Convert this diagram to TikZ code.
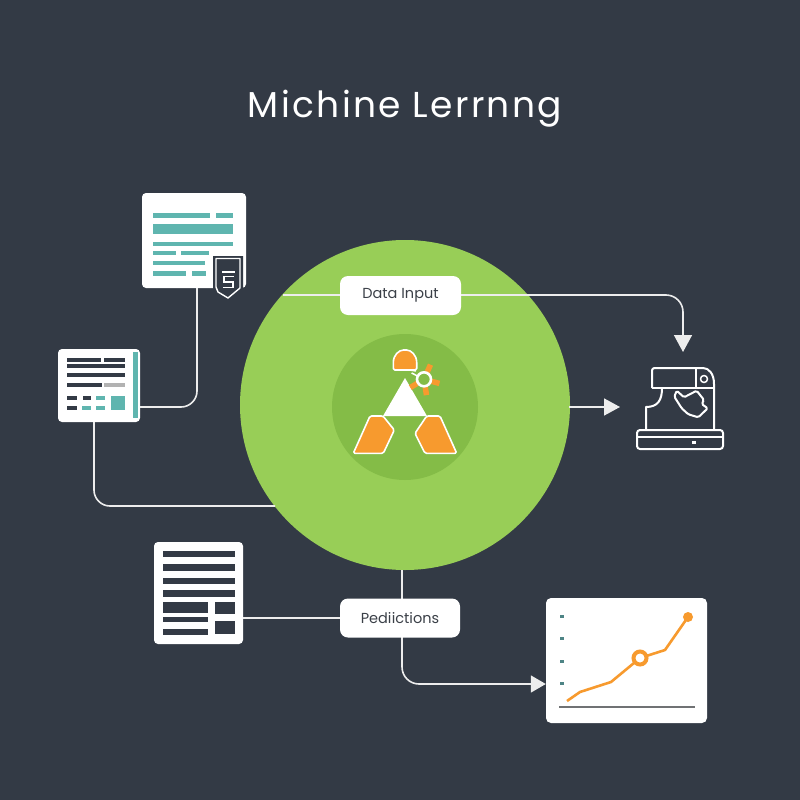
\documentclass[tikz,border=0pt]{standalone}
\usepackage{fontspec}
\setmainfont{Poppins}
\usetikzlibrary{positioning,calc,arrows.meta}
\definecolor{bgdark}{HTML}{333A45}
\definecolor{maingreen}{HTML}{98CE57}
\definecolor{innergreen}{HTML}{84BC47}
\definecolor{barteal}{HTML}{5FB5AF}
\definecolor{emorange}{HTML}{F79A2E}
\definecolor{textdark}{HTML}{3B4048}
\tikzset{
	wire/.style={draw=white!93!black, line width=1.6pt},
	pagebox/.style={fill=white, rounded corners=4pt, inner sep=0pt},
	labelbox/.style={fill=white, rounded corners=8pt, inner sep=0pt, minimum width=120pt, minimum height=39pt, text=textdark, font=\fontsize{14.5}{16}\selectfont},
	tealbar/.style={fill=barteal},
	darkbar/.style={fill=bgdark},
	iconline/.style={draw=white, line width=2pt, line join=round},
	emshape/.style={fill=emorange, draw=white, line width=1.6pt, line join=round, rounded corners=1.5pt}
}
\begin{document}
\begin{tikzpicture}[x=1pt, y=-1pt]
	\fill[bgdark] (0,0) rectangle (800,800);
	\node[text=white, font=\fontsize{36}{40}\selectfont\addfontfeature{LetterSpace=6.5}] (title) at (405,109) {Michine Lerrnng};

	% big circle
	\node[circle, fill=maingreen, minimum size=330pt, inner sep=0pt] (mainc) at (405,405) {};
	\node[circle, fill=innergreen, minimum size=146pt, inner sep=0pt] (innerc) at (405,407) {};

	% pages and boxes
	\node[pagebox, minimum width=104pt, minimum height=95pt] (doctop) at (194,240.5) {};
	\node[pagebox, minimum width=82pt, minimum height=73pt] (docleft) at (99,385.5) {};
	\node[pagebox, minimum width=89pt, minimum height=102pt] (doctable) at (198.5,593) {};
	\node[pagebox, rounded corners=5pt, minimum width=161pt, minimum height=125pt] (chart) at (626.5,660.5) {};
	\coordinate (mainleft) at (283,295);
	\coordinate (mainright) at (569,407);
	\coordinate (mainsw) at (275,506);
	\coordinate (mainbot) at (402,570);
	\coordinate (machinetop) at (683,352);
	\coordinate (machineleft) at (620,407);

	% connectors
	\draw[wire] (mainleft) -- (461,295) coordinate (dataout);
	\draw[wire, rounded corners=17pt, -{Triangle[width=18pt,length=17pt]}] (dataout) -| (machinetop);
	\draw[wire, -{Triangle[width=17pt,length=16pt]}] (mainright) -- (machineleft);
	\draw[wire, rounded corners=16pt] ([xshift=3pt]doctop.south) |- ([yshift=-21.5pt]docleft.east);
	\draw[wire, rounded corners=16pt] ([xshift=-5pt]docleft.south) |- (mainsw);
	\draw[wire] (doctable.east |- 0,618) -- (340,618);
	\draw[wire] (mainbot) -- (402,600);
	\draw[wire, rounded corners=17pt, -{Triangle[width=17pt,length=15pt]}] (402,636) |- ([yshift=-23.5pt]chart.west);

	\node[labelbox, minimum width=121pt] (datain) at (400.5,295.5) {Data Input};
	\node[labelbox] (predict) at (400,618) {Pedi\hspace{0.3pt}ictions};

	% top page
	\foreach \xa/\ya/\xb/\yb in {153/213/210/218, 216/213/233/218, 153/224/233/234, 153/242/233/246,
		153/251/176/255, 181/251/209/255, 153/261/205/265, 153/271/186/276, 192/271/206/276}
		\fill[tealbar] (\xa,\ya) rectangle (\xb,\yb);
	\fill[bgdark] (213,256) -- (243,256) -- (243,289) -- (228,301.5) -- (217,295) -- (213,288) -- cycle;
	\draw[white, line width=1.4pt, line join=round] (216,258.5) -- (240,258.5) -- (240,288) -- (228,298) -- (218,292) -- (216,287) -- cycle;
	\draw[white, line width=1.2pt] (222,272) -- (235,272);
	\draw[white, line width=1.5pt] (234,276.5) -- (224,276.5) -- (224,282) -- (233,282) -- (233,287.5) -- (223,287.5);

	% left page
	\fill[barteal] (133,352) rectangle (138,418);
	\foreach \xa/\ya/\xb/\yb in {67/358/101/362, 104/358/125/362, 67/364/125/368, 67/373/125/377, 67/383/102/387,
		67/396/77/400, 83/396/91/400, 67/406/77/410}
		\fill[darkbar] (\xa,\ya) rectangle (\xb,\yb);
	\fill[gray!60] (104,383) rectangle (125,387);
	\foreach \xa/\ya/\xb/\yb in {96/396/105/400, 82/406/91/410, 96/406/105/410, 111/396/125/410}
		\fill[tealbar] (\xa,\ya) rectangle (\xb,\yb);

	% table page
	\foreach \xa/\ya/\xb/\yb in {163/551/235/557, 163/564/235/571, 163/578/235/584, 163/590/235/597,
		163/602/208/613, 163/617/208/622, 163/629/208/635, 215/602/235/614, 215/621/235/634}
		\fill[darkbar] (\xa,\ya) rectangle (\xb,\yb);

	% emblem
	\fill[white] (405,378) -- (427,416) -- (383,416) -- cycle;
	\draw[emshape] (393.3,370) -- (393.3,364) .. controls (393.3,355) and (399,350) .. (405,350) .. controls (411,350) and (416.7,355) .. (416.7,364) -- (416.7,370) -- cycle;
	\draw[emshape] (353.3,453.3) -- (370,416) -- (383,416) -- (394.3,430) -- (383.3,453.3) -- cycle;
	\draw[emshape] (456.7,453.3) -- (440,416) -- (426.7,416) -- (415,433.3) -- (425,453.3) -- cycle;
	\coordinate (gear) at (424,379.3);
	\foreach \ang in {-66,15,81,149}
		\draw[emorange, line width=5.5pt] ($(gear)+(\ang:8)$) -- ($(gear)+(\ang:16)$);
	\draw[white, line width=1.5pt] ($(gear)+(-153:8)$) -- ($(gear)+(-153:14)$);
	\draw[white, line width=1.5pt] (410,370) -- (416,371);
	\draw[white, line width=2.6pt, fill=innergreen] (gear) circle (7);

	% machine
	\draw[iconline, rounded corners=2.5pt] (652,388) -- (652,368) -- (703,368);
	\draw[iconline] (703,368) .. controls (709,368) and (714,374) .. (714,384) -- (714,430);
	\draw[iconline] (652,388) -- (714,388);
	\draw[iconline] (696,368) -- (696,388);
	\draw[iconline, line width=1.5pt] (704,379) circle (3.5);
	\draw[iconline] (662,388) .. controls (662,400) and (658,407) .. (646,407) -- (646,430);
	\draw[iconline, rounded corners=1.5pt] (674.3,396.7) -- (681.7,408.3) -- (688.3,414.3) -- (698.3,417.3) -- (707.7,408.3) -- (701.7,404) -- (704,400) -- (696.7,390.7) -- (684,397.3) -- (676.7,390.7) -- cycle;
	\draw[iconline, rounded corners=3pt] (637,430) rectangle (723,449);
	\draw[iconline] (637,437) -- (723,437);
	\fill[white] (692,440.5) rectangle (696,443.5);

	% chart
	\draw[draw=gray!80!bgdark, line width=1.8pt] (559,707) -- (695,707);
	\foreach \ya in {616,638,661,683}
		\fill[barteal!60!bgdark] (560,\ya-1.5) rectangle (564,\ya+1.5);
	\draw[emorange, line width=2.6pt, line join=round] (567,701) -- (580,692) -- (611,682) -- (640,658) -- (665,650) -- (688,617);
	\draw[emorange, line width=4pt, fill=white] (640,658) circle (6.5);
	\fill[emorange] (688,617) circle (5);
\end{tikzpicture}
\end{document}
